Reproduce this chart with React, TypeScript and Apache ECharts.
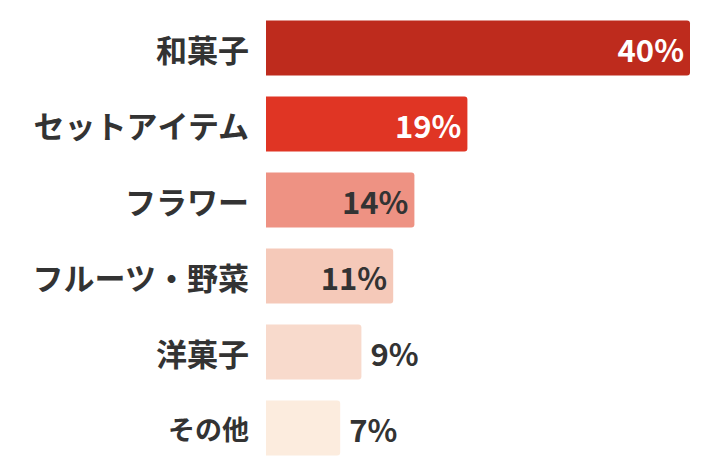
import React, { useEffect, useRef } from 'react'
import * as echarts from 'echarts'

// categories from top to bottom
const categories = ['和菓子', 'セットアイテム', 'フラワー', 'フルーツ・野菜', '洋菓子', 'その他']
// bar lengths (share, %)
const shares = [40, 19, 14, 12, 9, 7]
// labels printed on the bars
const shareLabels = ['40%', '19%', '14%', '11%', '9%', '7%']
const barColors = ['#BE2B1D', '#E03524', '#EE9283', '#F5C9B9', '#F8DACC', '#FCECDE']
const labelColors = ['#ffffff', '#ffffff', '#333333', '#333333', '#333333', '#333333']
const labelInside = [true, true, true, true, false, false]
// the last category name is printed a little smaller
const categoryFontSizes = [31, 31, 31, 31, 31, 27]

const FONT = "'Noto Sans CJK JP', 'Noto Sans', sans-serif"

const App: React.FC = () => {
    const chartRef = useRef<HTMLDivElement | null>(null)

    useEffect(() => {
        document.body.style.margin = '0'
        if (!chartRef.current) return
        const chart = echarts.init(chartRef.current, undefined, { renderer: 'svg' })

        chart.setOption({
            animation: false,
            grid: { left: 266, right: 20, top: 10, bottom: 10 },
            xAxis: {
                type: 'value',
                min: 0,
                max: 40,
                show: false,
            },
            yAxis: {
                type: 'category',
                inverse: true,
                data: categories.map((name, i) => ({
                    value: name,
                    textStyle: { fontSize: categoryFontSizes[i] },
                })),
                axisLine: { show: false },
                axisTick: { show: false },
                axisLabel: {
                    margin: 17,
                    color: '#333333',
                    fontSize: 31,
                    fontWeight: 'bold',
                    fontFamily: FONT,
                },
            },
            series: [
                {
                    type: 'bar',
                    barWidth: 55,
                    data: shares.map((v, i) => ({
                        value: v,
                        itemStyle: { color: barColors[i], borderRadius: [0, 3, 3, 0] },
                        label: {
                            show: true,
                            position: labelInside[i] ? 'insideRight' : 'right',
                            distance: labelInside[i] ? 6 : 9,
                            color: labelColors[i],
                            fontSize: 31,
                            fontWeight: 'bold',
                            fontFamily: FONT,
                            formatter: () => shareLabels[i],
                        },
                    })),
                },
            ],
        })

        return () => {
            chart.dispose()
        }
    }, [])

    return <div ref={chartRef} style={{ width: '710px', height: '476px' }} />
}

export default App
